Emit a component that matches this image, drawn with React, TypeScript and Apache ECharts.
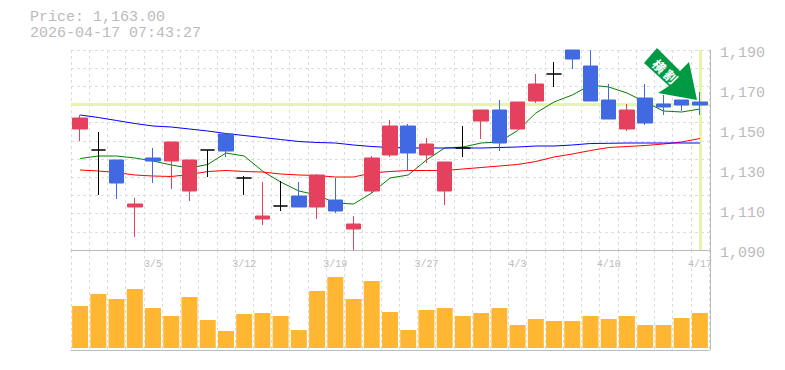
import React, { useEffect, useRef } from "react";
import * as echarts from "echarts";

const dates = ["2/27","3/2","3/3","3/4","3/5","3/6","3/9","3/10","3/11","3/12","3/13","3/16","3/17","3/18","3/19","3/23","3/24","3/25","3/26","3/27","3/30","3/31","4/1","4/2","4/3","4/6","4/7","4/8","4/9","4/10","4/13","4/14","4/15","4/16","4/17"];
const labelledDates = ["3/5","3/12","3/19","3/27","4/3","4/10","4/17"];
const priceTicks = [1090,1110,1130,1150,1170,1190];

const opens = [1150.5,1140,1135,1111.5,1136,1134.5,1119.5,1140,1148,1126,1105.5,1112,1117,1111.5,1115,1100.5,1119.5,1137.5,1152,1137.5,1119.5,1141,1154.5,1160,1150.5,1164.5,1178,1190,1182,1165,1150.5,1166,1163,1165,1164];
const closes = [1156,1140,1123.5,1113,1134.5,1144,1135,1140,1139.5,1126,1107,1112,1111.5,1127.5,1109.5,1103,1136,1152,1138.5,1143,1134,1141,1160,1143.5,1164,1173,1178,1185.5,1164.5,1155.5,1160,1153.5,1161.5,1162.5,1162.5];
const lows = [1144.5,1117.5,1115.5,1096.5,1123.5,1120.5,1114.5,1126.5,1136.5,1117.5,1102.5,1109.5,1111.5,1105.5,1108.5,1090,1118.5,1136.5,1129.5,1133.5,1112.5,1136.5,1145.5,1139.5,1150.5,1163.5,1171.5,1180.5,1164.5,1155.5,1149.5,1152.5,1157.5,1159.5,1157.5];
const highs = [1157.5,1149,1135,1116,1141,1144,1135,1140,1148,1127,1124,1124.5,1124,1128,1126,1107,1137,1155,1153,1146,1134,1152,1160,1165,1164,1178,1184,1190,1190,1173,1163,1173,1167.5,1165,1169];

const maShort = [1135.75,1137,1137,1136,1134.5,1132.5,1131,1132.75,1138.5,1137,1129.5,1124,1119.5,1117.5,1113.5,1113,1118.5,1126,1127.5,1135,1141,1141.5,1143.5,1144,1149.75,1158.5,1164,1167.5,1172.5,1171.5,1168.5,1164,1159.5,1159,1160.5];
const maMid = [1130,1129.5,1128.75,1127.5,1127,1126.75,1127.75,1129.25,1129.75,1129.25,1129,1128,1127.5,1127.25,1126.5,1126.5,1128.5,1129.25,1129.75,1129.75,1129.75,1130.5,1131.25,1132,1132.75,1134.25,1136.5,1138,1139.75,1141.25,1141.75,1142.25,1143,1144,1145.75];
const maLong = [1157.5,1156.25,1154.75,1153.25,1152,1151.5,1150.5,1149.5,1148.25,1147.25,1146.25,1145.25,1144.25,1143.75,1143.5,1142.5,1141.75,1141.25,1141,1141,1141,1141,1141,1141.25,1141.5,1142,1142,1142.5,1143.25,1143.35,1143.5,1143.5,1143.5,1143.5,1143.5];
const volumes = [42,54,49,59,40,32,51,28,17,34,35,32,18,57,71,49,67,36,18,38,40,32,35,40,23,29,27,27,32,29,32,23,23,30,35];

const currentPrice = 1163;
const currentDate = "4/17";
const titleLines = ["Price: 1,163.00", "2026-04-17 07:43:27"];
const arrowText = ["横", "割"];

const MONO = "'Liberation Mono', monospace";
const GREY = "#bbbbbb";
const DASH = { color: "#dddddd", width: 1, type: [3, 3] as number[] };
const UP = "#e5415f";
const DOWN = "#4169e1";
const HILITE = "#e6f5a9";

export default function App() {
  const ref = useRef<HTMLDivElement>(null);
  useEffect(() => {
    document.body.style.margin = "0";
    const chart = echarts.init(ref.current!, undefined, { renderer: "svg" });
    const grids = [
      { left: 71, right: 76, top: 50, height: 200 },
      { left: 71, right: 76, top: 250, height: 100 },
    ];
    chart.setOption({
      animation: false,
      backgroundColor: "#ffffff",
      grid: grids,
      xAxis: [
        {
          type: "category", gridIndex: 0, data: dates, boundaryGap: true,
          axisLine: { show: true, onZero: false, lineStyle: { color: GREY } },
          axisTick: { show: false },
          splitLine: { show: true, interval: 0, lineStyle: DASH },
          axisLabel: {
            show: true, margin: 9, fontFamily: MONO, fontSize: 10, color: GREY,
            hideOverlap: false,
            interval: (_i: number, v: string) => labelledDates.includes(v),
          },
        },
        {
          type: "category", gridIndex: 1, data: dates, boundaryGap: true,
          axisLine: { show: true, onZero: false, lineStyle: { color: GREY } },
          axisTick: { show: false },
          axisLabel: { show: false },
          splitLine: { show: true, interval: 0, lineStyle: DASH },
        },
      ],
      yAxis: [
        {
          type: "value", gridIndex: 0, position: "right", min: 1090, max: 1190, offset: 1,
          scale: true,
          axisLine: { show: true, lineStyle: { color: GREY } },
          axisTick: { show: false, customValues: priceTicks },
          splitLine: { show: false },
          axisLabel: {
            show: true, customValues: priceTicks, margin: 10, fontFamily: MONO, fontSize: 15, color: GREY,
            verticalAlign: "top", lineHeight: 6, showMinLabel: true, showMaxLabel: true,
            formatter: (v: number) => v.toLocaleString("en-US"),
          },
        },
        {
          type: "value", gridIndex: 0, position: "left", min: 0, max: 11, interval: 1,
          axisLine: { show: false }, axisTick: { show: false }, axisLabel: { show: false },
          splitLine: { show: true, lineStyle: DASH },
        },
        {
          type: "value", gridIndex: 1, position: "right", min: -2, max: 98, offset: 1,
          axisLine: { show: true, lineStyle: { color: GREY } },
          axisTick: { show: false }, axisLabel: { show: false }, splitLine: { show: false },
        },
      ],
      series: [
        {
          type: "line", xAxisIndex: 0, yAxisIndex: 0, data: [], z: 1, silent: true,
          markLine: {
            silent: true, symbol: "none", animation: false, z: 1,
            label: { show: false },
            lineStyle: { color: HILITE, width: 3, type: "solid" },
            data: [{ yAxis: currentPrice }, { xAxis: currentDate }],
          },
        },
        { type: "line", name: "short", xAxisIndex: 0, yAxisIndex: 0, data: maShort, z: 2, showSymbol: false, lineStyle: { color: "#008000", width: 1 } },
        { type: "line", name: "mid", xAxisIndex: 0, yAxisIndex: 0, data: maMid, z: 2, showSymbol: false, lineStyle: { color: "#ff0000", width: 1 } },
        { type: "line", name: "long", xAxisIndex: 0, yAxisIndex: 0, data: maLong, z: 2, showSymbol: false, lineStyle: { color: "#0000ff", width: 1 } },
        {
          type: "candlestick", xAxisIndex: 0, yAxisIndex: 0, z: 3, barWidth: 15, clip: true,
          data: dates.map((_, i) => [opens[i], closes[i], lows[i], highs[i]]),
          itemStyle: {
            color: UP, color0: DOWN, borderColor: UP, borderColor0: DOWN,
            borderColorDoji: "#000000", borderWidth: 1,
          },
        },
        {
          type: "bar", xAxisIndex: 1, yAxisIndex: 2, data: volumes, barWidth: 16, z: 2,
          itemStyle: { color: "#ffb733" },
        },
      ],
      graphic: [
        {
          type: "polygon", z: 10,
          shape: { points: [[657, 48], [644, 63], [669, 86], [658, 93], [697, 100], [689, 62], [680, 71]] },
          style: { fill: "#009a44" },
        },
        {
          type: "text", z: 11, x: 659.5, y: 66, rotation: -Math.PI / 4,
          style: { text: arrowText[0], fill: "#ffffff", font: "bold 13px 'Noto Sans CJK JP'", align: "center", verticalAlign: "middle" },
        },
        {
          type: "text", z: 11, x: 671, y: 76.5, rotation: -Math.PI / 4,
          style: { text: arrowText[1], fill: "#ffffff", font: "bold 13px 'Noto Sans CJK JP'", align: "center", verticalAlign: "middle" },
        },
        {
          type: "text", z: 11, x: 30, y: 17,
          style: { text: titleLines[0], fill: GREY, font: `15px ${MONO}`, align: "left", verticalAlign: "middle" },
        },
        {
          type: "text", z: 11, x: 30, y: 33,
          style: { text: titleLines[1], fill: GREY, font: `15px ${MONO}`, align: "left", verticalAlign: "middle" },
        },
      ],
    });
    return () => chart.dispose();
  }, []);
  return <div ref={ref} style={{ width: 785, height: 370, position: "absolute", left: 0, top: 0 }} />;
}
